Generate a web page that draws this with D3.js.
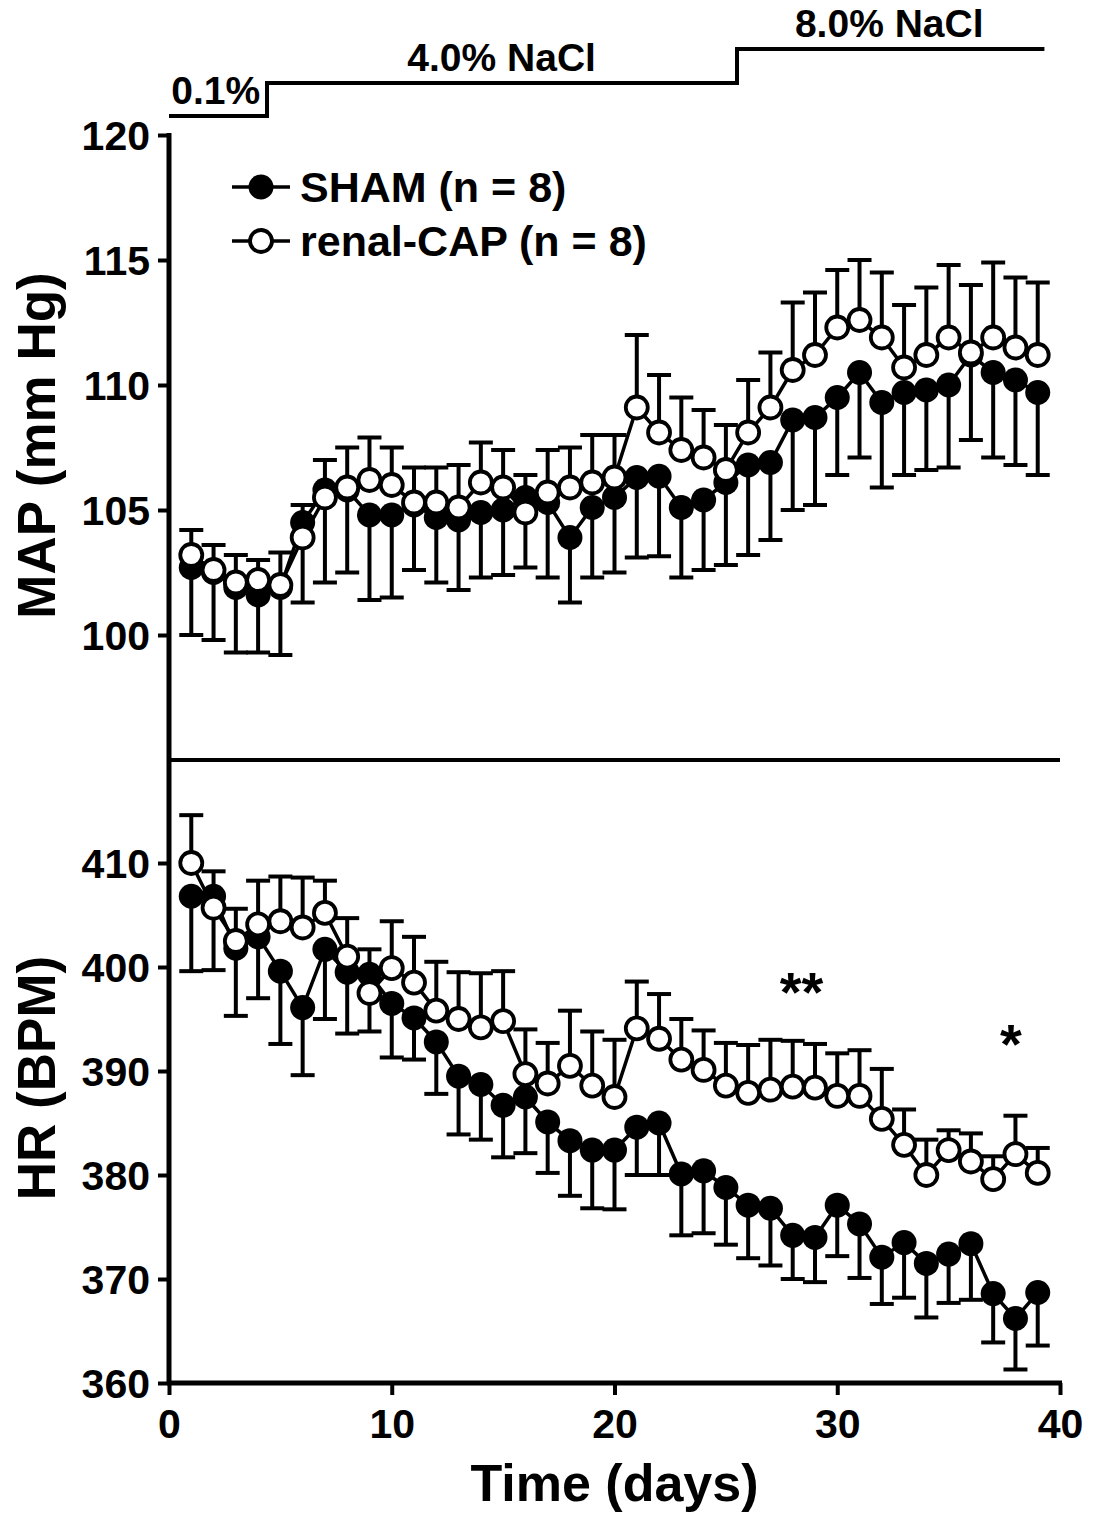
<!DOCTYPE html>
<html><head><meta charset="utf-8">
<script src="https://cdn.jsdelivr.net/npm/d3@7"></script>
<style>
html,body{margin:0;padding:0;background:#fff;}
text{font-family:"Liberation Sans",Arial,sans-serif;font-weight:bold;fill:#000;}
</style></head>
<body>
<svg id="chart" width="1103" height="1519"></svg>
<script>
// ---------- DATA ----------
const days = d3.range(1, 40);
const mapSham = [102.7,102.5,101.9,101.6,101.9,104.5,105.8,105.8,104.8,104.8,105.2,104.7,104.6,104.9,105.0,105.5,105.3,103.9,105.1,105.5,106.3,106.35,105.1,105.4,106.1,106.8,106.9,108.6,108.7,109.5,110.5,109.3,109.7,109.8,110.0,111.2,110.5,110.2,109.7];
const mapShamErr = [2.7,2.7,2.6,2.3,2.7,3.2,3.7,3.3,3.4,3.3,2.6,2.6,2.8,2.6,2.6,2.8,3.0,2.6,2.8,3.0,3.2,3.2,2.8,2.8,3.3,3.6,3.1,3.6,3.5,3.1,3.4,3.4,3.3,3.2,3.3,3.4,3.4,3.4,3.3];
const mapCap = [103.2,102.6,102.1,102.2,102.0,103.9,105.5,105.9,106.2,106.0,105.3,105.3,105.1,106.1,105.9,104.9,105.7,105.9,106.1,106.3,109.1,108.1,107.4,107.1,106.6,108.1,109.1,110.6,111.2,112.3,112.6,111.9,110.7,111.2,111.9,111.3,111.9,111.5,111.2];
const mapCapErr = [1.0,1.0,1.1,0.8,1.3,1.3,1.5,1.6,1.7,1.5,1.4,1.4,1.7,1.6,1.5,1.5,1.7,1.6,1.9,1.7,2.9,2.3,2.1,1.9,1.8,2.1,2.2,2.7,2.5,2.3,2.4,2.6,2.5,2.7,2.9,2.7,3.0,2.8,2.9];
const hrSham = [406.8,406.8,401.8,402.9,399.6,396.1,401.7,399.5,399.3,396.5,395.1,392.8,389.5,388.7,386.7,387.5,385.1,383.3,382.4,382.4,384.6,385.0,380.1,380.4,378.8,377.1,376.8,374.2,374.0,377.1,375.3,372.1,373.5,371.5,372.4,373.4,368.6,366.2,368.7];
const hrShamErr = [7.2,7.1,6.5,5.9,7.0,6.5,6.7,5.9,5.5,5.2,4.0,5.0,5.6,5.3,5.0,5.4,4.9,5.3,5.6,5.7,4.6,5.0,5.9,6.0,5.5,5.1,5.5,4.2,4.3,4.9,5.2,4.5,5.3,5.2,4.7,5.4,4.7,4.9,5.1];
const hrCap = [410.0,405.7,402.5,404.1,404.4,403.8,405.2,401.0,397.5,399.9,398.5,395.8,395.0,394.2,394.8,389.7,388.8,390.5,388.6,387.5,394.1,393.1,391.1,390.1,388.6,387.9,388.2,388.5,388.4,387.6,387.6,385.4,382.9,380.0,382.4,381.3,379.6,382.0,380.2];
const hrCapErr = [4.6,3.5,3.1,4.2,4.3,4.8,3.1,3.7,4.2,4.5,4.4,4.7,4.5,5.2,4.8,4.3,3.9,5.3,5.2,5.5,4.5,4.3,3.9,3.8,4.1,4.6,4.8,4.4,4.2,4.1,4.4,4.8,3.4,3.4,1.9,2.7,2.2,3.7,2.4];
const xTicks = [0,10,20,30,40];
const mapTicks = [100,105,110,115,120];
const hrTicks = [360,370,380,390,400,410];
const saltSteps = [[0,0.1],[4.4,4.0],[25.5,8.0],[39.3,8.0]]; // [day, % NaCl]
const saltLabels = [{t:"0.1%",d:0.1,lvl:0.1},{t:"4.0% NaCl",d:10.7,lvl:4.0},{t:"8.0% NaCl",d:28.1,lvl:8.0}];
const legendItems = [{name:"SHAM (n = 8)",filled:true},{name:"renal-CAP (n = 8)",filled:false}];
const stars = [{d:28.4,v:395.8,t:"**"},{d:37.8,v:390.8,t:"*"}];

// ---------- SCALES ----------
const svg = d3.select("#chart");
const x = d3.scaleLinear().domain([0,40]).range([169,1060]);
const yTop = d3.scaleLinear().domain([95,120]).range([760,135]);
const yBot = d3.scaleLinear().domain([360,420]).range([1383,759]);
const ySalt = d3.scaleLinear().domain([0.1,8.0]).range([116,49]);

// ---------- SALT BAR ----------
const saltLine = d3.line().x(d=>x(d[0])).y(d=>ySalt(d[1])).curve(d3.curveStepAfter);
svg.append("path").datum(saltSteps)
  .attr("d", saltLine).attr("fill","none").attr("stroke","#000").attr("stroke-width",4);
svg.selectAll("text.salt").data(saltLabels).join("text").attr("class","salt")
  .attr("x",d=>x(d.d)).attr("y",d=>ySalt(d.lvl)-12).attr("font-size",39).text(d=>d.t);

// ---------- AXES ----------
svg.append("line").attr("x1",x(0)).attr("x2",x(0)).attr("y1",yTop(120)-2).attr("y2",yBot(360)+2)
  .attr("stroke","#000").attr("stroke-width",5);
svg.append("line").attr("x1",x(0)).attr("x2",x(40)).attr("y1",yTop(95)).attr("y2",yTop(95))
  .attr("stroke","#000").attr("stroke-width",4);

function yAxis(scale, ticks){
  const g = svg.append("g").attr("transform",`translate(${x(0)},0)`)
    .call(d3.axisLeft(scale).tickValues(ticks).tickSize(11).tickPadding(8).tickFormat(d3.format("d")));
  g.select(".domain").remove();
  g.selectAll(".tick line").attr("stroke","#000").attr("stroke-width",4);
  g.selectAll(".tick text").attr("font-size",41).attr("font-family",null).attr("dy","0.36em");
}
yAxis(yTop, mapTicks);
yAxis(yBot, hrTicks);

const xg = svg.append("g").attr("transform",`translate(0,${yBot(360)})`)
  .call(d3.axisBottom(x).tickValues(xTicks).tickSize(12).tickPadding(14).tickFormat(d3.format("d")));
xg.select(".domain").attr("stroke","#000").attr("stroke-width",5).attr("d",`M${x(0)-2},0H${x(40)+2}`);
xg.selectAll(".tick line").attr("stroke","#000").attr("stroke-width",4);
xg.selectAll(".tick text").attr("font-size",41).attr("font-family",null).attr("dy","0.71em");

// axis titles
svg.append("text").attr("transform",`translate(55,${(yTop(95)+yTop(120))/2-2}) rotate(-90)`)
  .attr("text-anchor","middle").attr("font-size",53).text("MAP (mm Hg)");
svg.append("text").attr("transform",`translate(55,${(yBot(360)+yBot(420))/2+7}) rotate(-90)`)
  .attr("text-anchor","middle").attr("font-size",53).text("HR (BPM)");
svg.append("text").attr("x",x(20)).attr("y",1501).attr("text-anchor","middle")
  .attr("font-size",52).text("Time (days)");

// ---------- SERIES ----------
function series(scale, mean, err, filled, dir){
  const data = days.map((d,i)=>({d, v:mean[i], e:err[i]}));
  const g = svg.append("g");
  const eb = g.selectAll("g.eb").data(data).join("g");
  eb.append("line").attr("x1",d=>x(d.d)).attr("x2",d=>x(d.d))
    .attr("y1",d=>scale(d.v)).attr("y2",d=>scale(d.v+dir*d.e))
    .attr("stroke","#000").attr("stroke-width",4);
  eb.append("line").attr("x1",d=>x(d.d)-12).attr("x2",d=>x(d.d)+12)
    .attr("y1",d=>scale(d.v+dir*d.e)).attr("y2",d=>scale(d.v+dir*d.e))
    .attr("stroke","#000").attr("stroke-width",4);
  return {g, data, filled, scale};
}
function marks(s){
  s.g.append("path").datum(s.data)
    .attr("d", d3.line().x(d=>x(d.d)).y(d=>s.scale(d.v)))
    .attr("fill","none").attr("stroke","#000").attr("stroke-width",3.5);
  s.g.selectAll("circle").data(s.data).join("circle")
    .attr("cx",d=>x(d.d)).attr("cy",d=>s.scale(d.v)).attr("r",s.filled?12.5:11)
    .attr("fill",s.filled?"#000":"#fff").attr("stroke","#000").attr("stroke-width",s.filled?0:3.8);
}
const sTopSham = series(yTop, mapSham, mapShamErr, true, -1);
const sTopCap = series(yTop, mapCap, mapCapErr, false, 1);
marks(sTopSham); marks(sTopCap);
const sBotSham = series(yBot, hrSham, hrShamErr, true, -1);
const sBotCap = series(yBot, hrCap, hrCapErr, false, 1);
marks(sBotSham); marks(sBotCap);

// significance
svg.selectAll("text.star").data(stars).join("text").attr("class","star")
  .attr("x",d=>x(d.d)).attr("y",d=>yBot(d.v)).attr("text-anchor","middle")
  .attr("font-size",56).text(d=>d.t);

// ---------- LEGEND ----------
const lg = svg.selectAll("g.leg").data(legendItems).join("g").attr("class","leg")
  .attr("transform",(d,i)=>`translate(0,${187+i*54})`);
lg.append("line").attr("x1",232).attr("x2",290).attr("y1",0).attr("y2",0)
  .attr("stroke","#000").attr("stroke-width",3.5);
lg.append("circle").attr("cx",261).attr("cy",0).attr("r",d=>d.filled?12.5:11)
  .attr("fill",d=>d.filled?"#000":"#fff").attr("stroke","#000").attr("stroke-width",d=>d.filled?0:3.8);
lg.append("text").attr("x",300).attr("y",15).attr("font-size",43).text(d=>d.name);
</script>
</body></html>
